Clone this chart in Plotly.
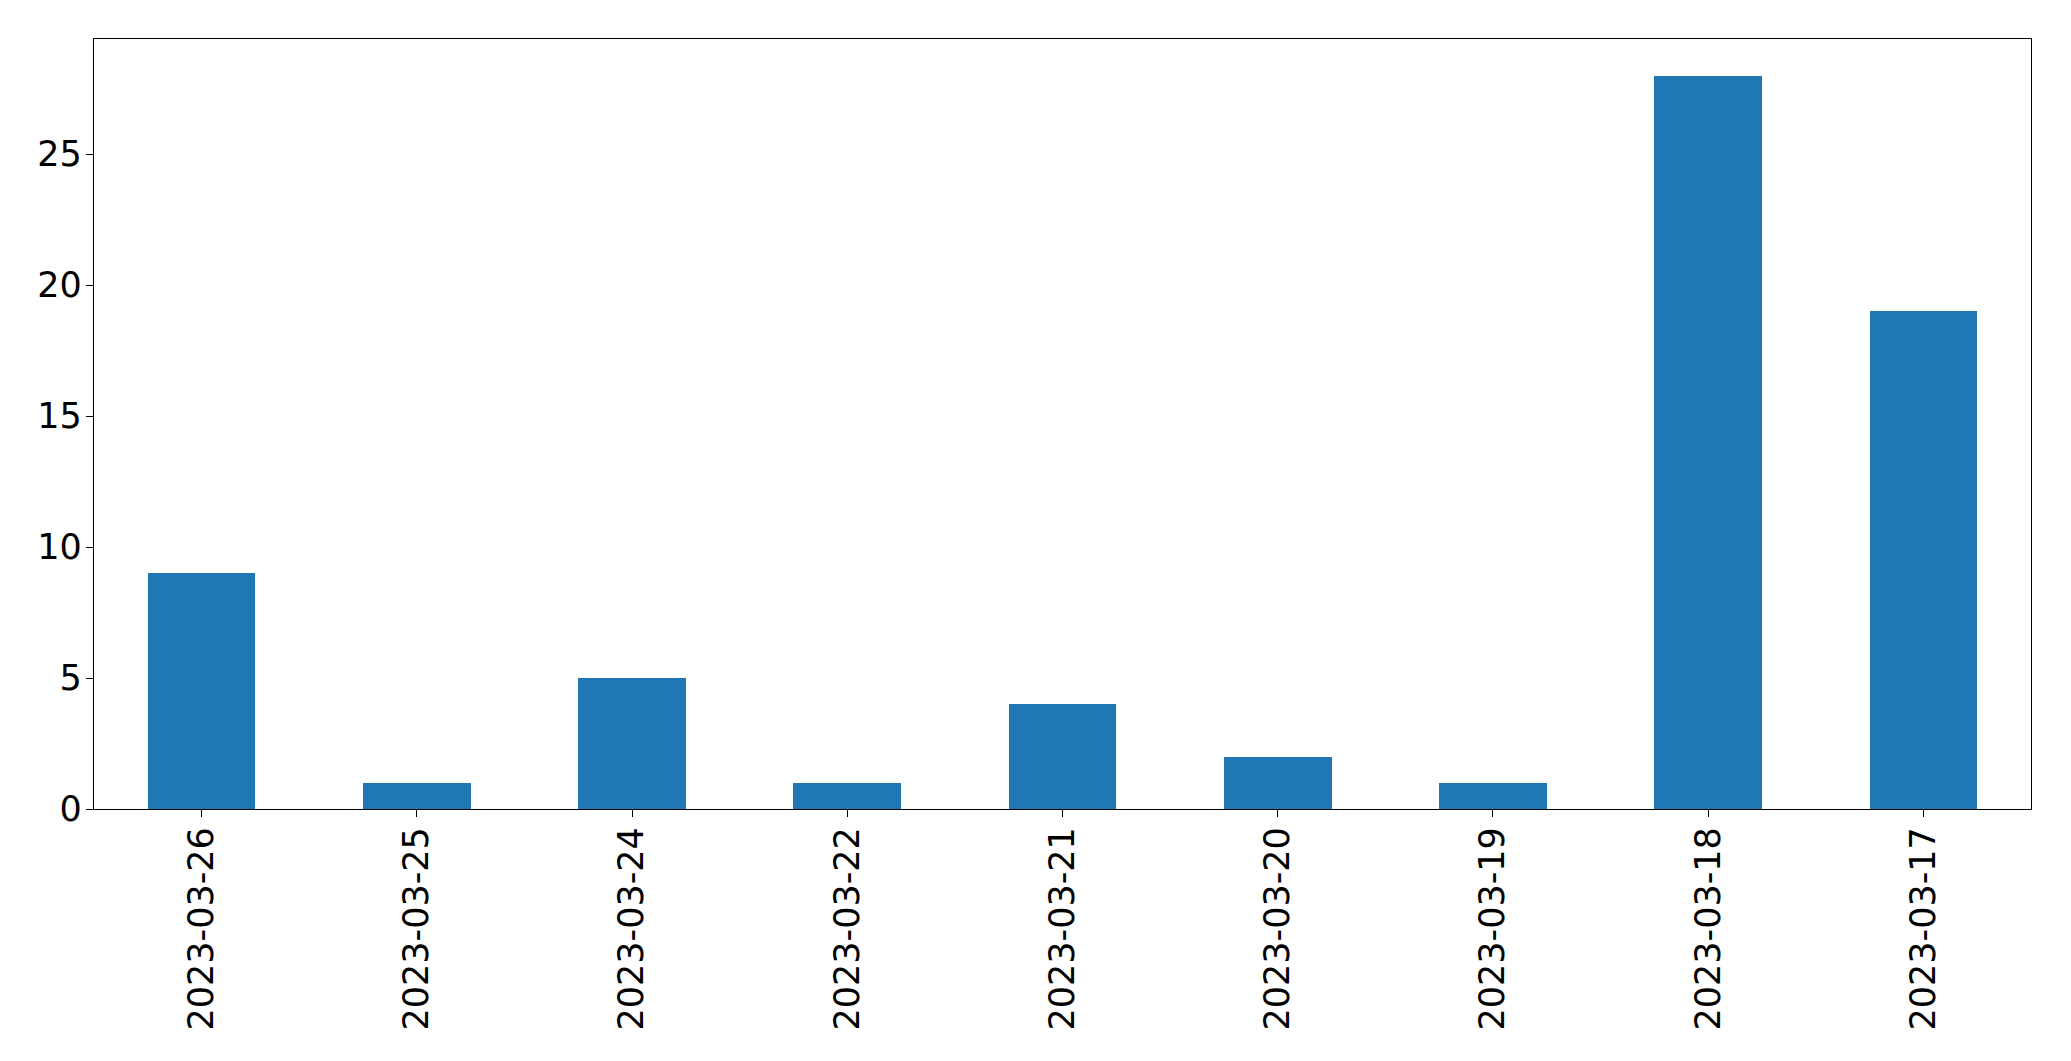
import plotly.graph_objects as go

dates = ["2023-03-26", "2023-03-25", "2023-03-24", "2023-03-22", "2023-03-21",
         "2023-03-20", "2023-03-19", "2023-03-18", "2023-03-17"]
counts = [9, 1, 5, 1, 4, 2, 1, 28, 19]
y_ticks = [0, 5, 10, 15, 20, 25]

fig = go.Figure(go.Bar(x=dates, y=counts, width=0.5, marker=dict(color="#1f77b4", line=dict(width=0))))

font = dict(family="DejaVu Sans", size=35, color="black")
# page body has an 8px margin, so the figure is sized to fit the remaining window
fig.update_layout(
    width=2063, height=1053,
    margin=dict(l=86, r=40, t=31, b=252, pad=0),
    paper_bgcolor="white", plot_bgcolor="white",
    showlegend=False,
    font=font,
    bargap=0,
)
fig.update_xaxes(
    type="category", range=[-0.5, 8.5], automargin=False,
    tickangle=-90, ticks="outside", ticklen=7, tickwidth=1.3, tickcolor="black",
    ticklabelstandoff=-4,
    showline=True, linecolor="black", linewidth=1.3, mirror=True,
    showgrid=False, zeroline=False, tickfont=font,
)
fig.update_yaxes(
    range=[0, 29.4], tickvals=y_ticks, automargin=False,
    ticks="outside", ticklen=7, tickwidth=1.3, tickcolor="black",
    ticklabelstandoff=-3,
    showline=True, linecolor="black", linewidth=1.3, mirror=True,
    showgrid=False, zeroline=False, tickfont=font,
)

fig.write_html("out.html")
